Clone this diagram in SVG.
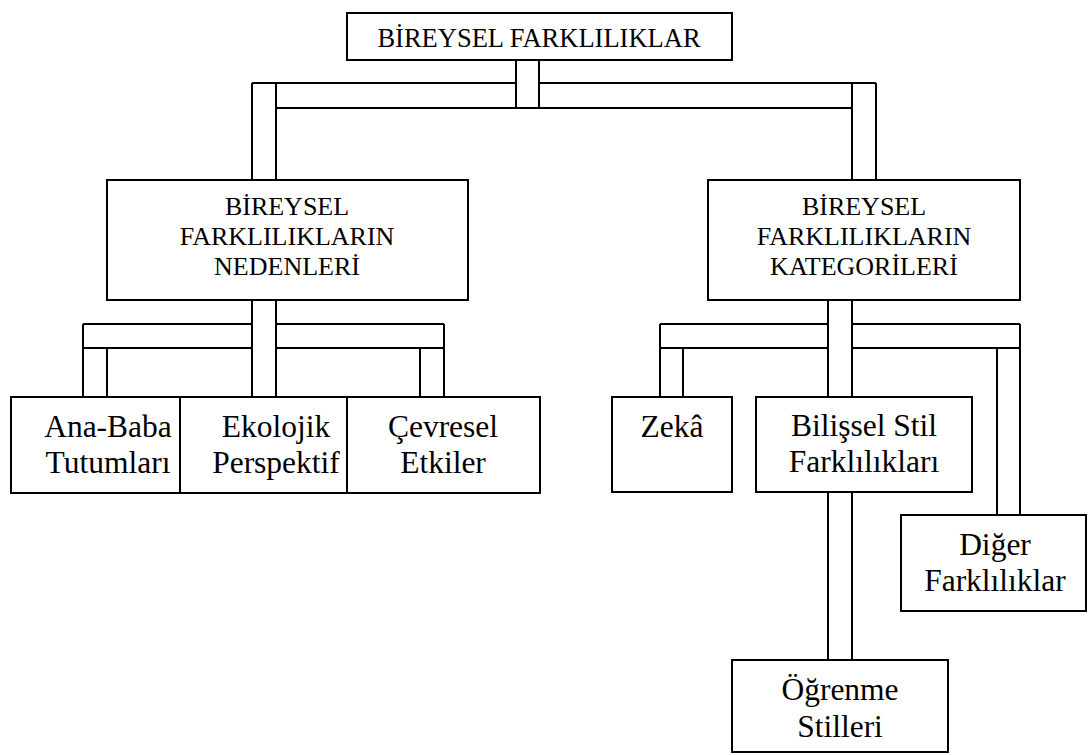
<svg xmlns="http://www.w3.org/2000/svg" width="1088" height="754" viewBox="0 0 1088 754">
  <style>
    .pipe { fill: none; stroke: #000; stroke-width: 2; }
    .box { fill: #fff; stroke: #000; stroke-width: 2; }
    .t { font-family: "Liberation Serif", "Times New Roman", serif; fill: #000; text-anchor: middle; }
    .h1 { font-size: 26.5px; }
    .h2 { font-size: 26px; }
    .h3 { font-size: 31.5px; }
  </style>
  <rect width="1088" height="754" fill="#fff"/>

  <!-- double-line connectors -->
  <g id="connectors" class="pipe">
    <!-- root to first level -->
    <path d="M516,60 V108 M539,60 V108 M252,83 H516 M539,83 H876 M276,108 H852 M252,83 V180 M276,83 V180 M852,83 V180 M876,83 V180"/>
    <!-- causes branch -->
    <path d="M252,300 V397 M276,300 V397 M83,324 H252 M276,324 H444 M83,348 H252 M276,348 H444 M83,324 V397 M107,348 V397 M444,324 V397 M420,348 V397"/>
    <!-- categories branch -->
    <path d="M828,300 V397 M852,300 V397 M660,324 H828 M852,324 H1020 M660,348 H828 M852,348 H1020 M660,324 V397 M683,348 V397 M1020,324 V515 M997,348 V515"/>
    <!-- cognitive style to learning styles -->
    <path d="M828,492 V660 M852,492 V660"/>
  </g>

  <g id="root">
    <rect class="box" x="347" y="13" width="385" height="47"/>
    <text class="t h1" x="539" y="47">BİREYSEL FARKLILIKLAR</text>
  </g>

  <g id="nedenler">
    <rect class="box" x="107" y="180" width="361" height="120"/>
    <text class="t h2" x="287" y="215">BİREYSEL</text>
    <text class="t h2" x="287" y="245">FARKLILIKLARIN</text>
    <text class="t h2" x="287" y="275">NEDENLERİ</text>
  </g>

  <g id="kategoriler">
    <rect class="box" x="708" y="180" width="312" height="120"/>
    <text class="t h2" x="864" y="215">BİREYSEL</text>
    <text class="t h2" x="864" y="245">FARKLILIKLARIN</text>
    <text class="t h2" x="864" y="275">KATEGORİLERİ</text>
  </g>

  <g id="ana-baba">
    <rect class="box" x="11" y="397" width="169" height="96"/>
    <text class="t h3" x="108" y="437">Ana-Baba</text>
    <text class="t h3" x="108" y="473">Tutumları</text>
  </g>

  <g id="ekolojik">
    <rect class="box" x="180" y="397" width="168" height="96"/>
    <text class="t h3" x="276" y="437">Ekolojik</text>
    <text class="t h3" x="276" y="473">Perspektif</text>
  </g>

  <g id="cevresel">
    <rect class="box" x="347" y="397" width="193" height="96"/>
    <text class="t h3" x="443" y="437">Çevresel</text>
    <text class="t h3" x="443" y="473">Etkiler</text>
  </g>

  <g id="zeka">
    <rect class="box" x="612" y="397" width="120" height="95"/>
    <text class="t h3" x="672" y="437">Zekâ</text>
  </g>

  <g id="bilissel">
    <rect class="box" x="756" y="397" width="216" height="95"/>
    <text class="t h3" x="864" y="436">Bilişsel Stil</text>
    <text class="t h3" x="864" y="472">Farklılıkları</text>
  </g>

  <g id="diger">
    <rect class="box" x="901" y="515" width="185" height="96"/>
    <text class="t h3" x="995" y="555">Diğer</text>
    <text class="t h3" x="995" y="591">Farklılıklar</text>
  </g>

  <g id="ogrenme">
    <rect class="box" x="732" y="660" width="216" height="92"/>
    <text class="t h3" x="840" y="700">Öğrenme</text>
    <text class="t h3" x="840" y="737">Stilleri</text>
  </g>
</svg>
